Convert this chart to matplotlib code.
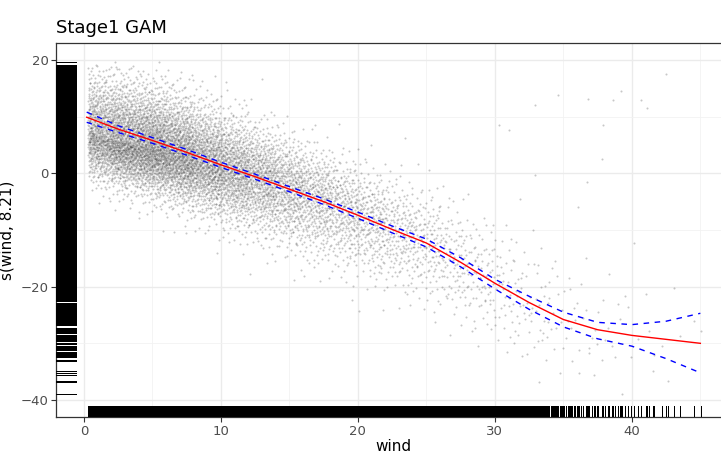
import math
import numpy as np
import matplotlib
matplotlib.use("Agg")
import matplotlib.pyplot as plt
from matplotlib.collections import LineCollection
import matplotlib.transforms as mtransforms

# fitted smooth and its 95% band
wind_grid = [0.2, 2.5, 5, 7.5, 10, 12.5, 15, 17.5, 20, 22.5, 25, 27.5, 30, 32.5, 35, 37.5, 40, 42.5, 45]
fit = [9.9, 7.8, 5.8, 3.7, 1.5, -0.6, -2.8, -5.0, -7.4, -9.9, -12.3, -15.7, -19.4, -22.8, -25.8, -27.6, -28.6, -29.3, -30.0]
upper = [10.8, 8.4, 6.3, 4.2, 1.95, -0.15, -2.35, -4.5, -6.85, -9.3, -11.6, -14.9, -18.7, -21.7, -24.5, -26.3, -26.7, -26.1, -24.7]
lower = [9.0, 7.2, 5.3, 3.2, 1.05, -1.05, -3.25, -5.5, -7.95, -10.5, -13.0, -16.5, -20.4, -24.0, -27.1, -29.2, -30.5, -32.7, -35.2]

# partial residual cloud, summarised per wind bin
bin_edges = [0.3, 2, 4, 6, 8, 10, 12, 14, 16, 18, 20, 22, 24, 26, 28, 30, 32, 34, 36, 38, 40, 42, 44, 45.2]
bin_n = [700, 950, 1000, 930, 780, 660, 550, 440, 360, 290, 230, 180, 140, 105, 80, 55, 38, 24, 15, 10, 7, 4, 2]
bin_shift = [-2.4, -2.0, -1.2, -0.8, -0.5, -0.3, 0, 0, 0, 0, 0, 0, 0, 0, 0, 0, 0, 0, 0, 0, 0, 0, 0]
bin_sd_up = [5.6, 5.6, 5.4, 5.3, 5.1, 4.9, 4.7, 4.6, 4.5, 4.5, 4.6, 4.8, 5.0, 5.2, 5.4, 5.6, 6, 6, 6.5, 7, 7, 7, 7]
bin_sd_dn = [4.0, 4.0, 4.2, 4.4, 4.6, 4.8, 5.0, 5.1, 5.2, 5.2, 5.2, 5.2, 5.2, 5.2, 5.3, 5.4, 5.6, 6, 6, 6, 6, 6, 6]

# isolated points far from the cloud
out_x = [32.9, 34.6, 36.8, 38.6, 39.2, 40.7, 41.1, 42.5, 30.3, 31.0, 37.9, 37.8, 36.7, 36.1, 32.9]
out_y = [12.0, 13.9, 13.1, 12.9, 14.6, 12.9, 11.6, 17.6, 8.6, 7.7, 8.5, 2.5, -1.6, -6.0, -0.3]


def halton(n, base, leap=1):
    seq = np.zeros(n)
    for i in range(n):
        f, r, k = 1.0, 0.0, (i + 1) * leap
        while k > 0:
            f /= base
            r += f * (k % base)
            k //= base
        seq[i] = r
    return seq


# normal quantiles by inverting the cdf on a grid
zg = np.linspace(-6, 6, 4001)
cg = np.array([0.5 * (1 + math.erf(v / math.sqrt(2))) for v in zg])

total = sum(bin_n)
cum = np.concatenate([[0], np.cumsum(bin_n)]) / total
xs = np.interp(halton(total, 2, 31), cum, bin_edges)
z = np.interp(halton(total, 3, 31), cg, zg)
mids = 0.5 * (np.array(bin_edges[:-1]) + np.array(bin_edges[1:]))
shift = np.interp(xs, mids, bin_shift)
sd = np.where(z > 0, np.interp(xs, mids, bin_sd_up), np.interp(xs, mids, bin_sd_dn))
ys = np.interp(xs, wind_grid, fit) + shift + z * sd

px = np.concatenate([xs, out_x])
py = np.concatenate([ys, out_y])
keep = (py <= 20) & (py >= -40)
px, py = px[keep], py[keep]

fig = plt.figure(figsize=(7.21, 4.53), dpi=100)
ax = fig.add_axes([0.0777, 0.0795, 0.9362, 0.8256])

ax.scatter(px, py, s=2.2, color="black", alpha=0.22, linewidths=0, zorder=2)

# rugs
tx = mtransforms.blended_transform_factory(ax.transData, ax.transAxes)
ty = mtransforms.blended_transform_factory(ax.transAxes, ax.transData)
ax.add_collection(LineCollection([[(v, 0), (v, 0.03)] for v in px], transform=tx,
                                 colors="black", linewidths=0.7, antialiaseds=False, zorder=3))
ax.add_collection(LineCollection([[(0, v), (0.03, v)] for v in py], transform=ty,
                                 colors="black", linewidths=0.7, antialiaseds=False, zorder=3))

ax.plot(wind_grid, fit, color="red", lw=1.0, zorder=4)
ax.plot(wind_grid, upper, color="blue", lw=1.0, ls=(0, (4, 4)), zorder=4)
ax.plot(wind_grid, lower, color="blue", lw=1.0, ls=(0, (4, 4)), zorder=4)

ax.set_xlim(-2.04, 47.24)
ax.set_ylim(-43, 23)
ax.set_xticks([0, 10, 20, 30, 40])
ax.set_xticks([5, 15, 25, 35, 45], minor=True)
ax.set_yticks([-40, -20, 0, 20])
ax.set_yticks([-30, -10, 10], minor=True)
ax.grid(True, which="major", color="#EBEBEB", lw=1.0, zorder=0)
ax.grid(True, which="minor", color="#F2F2F2", lw=0.6, zorder=0)
ax.set_axisbelow(True)
ax.tick_params(which="major", length=3.5, width=0.8, color="#333333",
               labelcolor="#4D4D4D", labelsize=9.5, pad=2)
ax.tick_params(which="minor", length=0)
for sp in ax.spines.values():
    sp.set_color("#333333")
    sp.set_linewidth(0.9)

ax.set_xlabel("wind", fontsize=11, labelpad=1)
ax.set_ylabel("s(wind, 8.21)", fontsize=11, labelpad=4)
ax.set_title("Stage1 GAM", loc="left", fontsize=13, pad=7)

fig.savefig("out.png", dpi=100)
